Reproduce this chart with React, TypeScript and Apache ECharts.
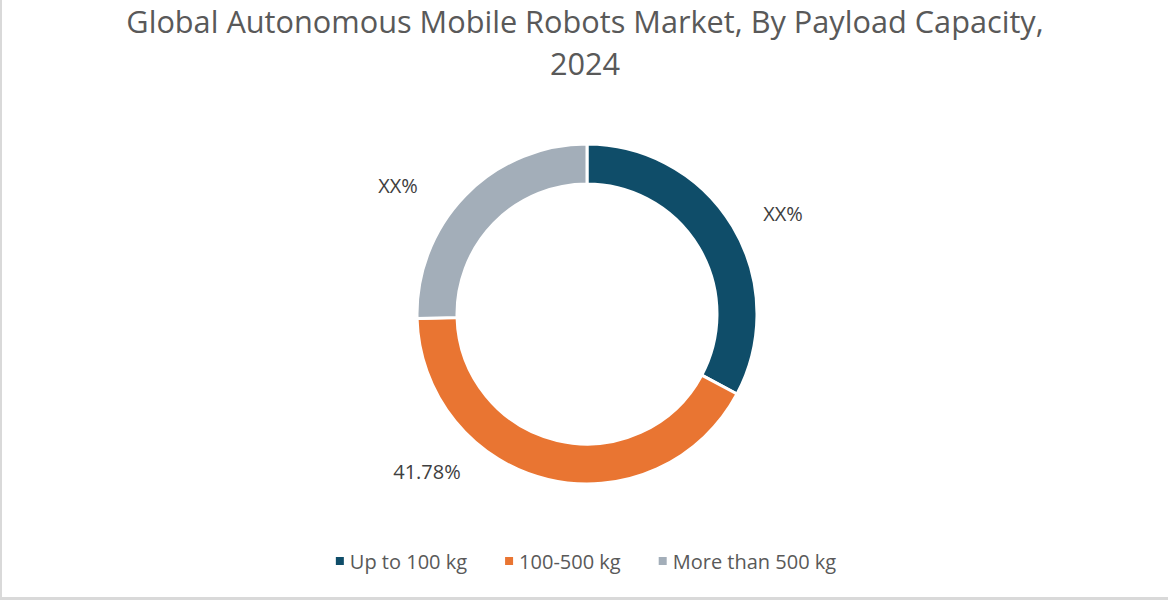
import * as echarts from "echarts";
import { useEffect, useRef } from "react";

const categories = ["Up to 100 kg", "100-500 kg", "More than 500 kg"];
const shares = [32.8, 41.78, 25.42];
const shareLabels = ["XX%", "41.78%", "XX%"];
const sliceColors = ["#0f4d69", "#e97532", "#a3aeb9"];
// where the labels sit (px in the chart box)
const labelSpots = [
  [781, 213],
  [425, 471],
  [396, 185],
];

const App = () => {
  const chartRef: any = useRef(null);

  useEffect(() => {
    const myChart = echarts.init(chartRef.current, null, { renderer: "svg" });
    myChart.setOption({
      animation: false,
      backgroundColor: "#ffffff",
      title: {
        text: "Global Autonomous Mobile Robots Market, By Payload Capacity,\n2024",
        left: "center",
        top: -5,
        textStyle: {
          fontFamily: "Open Sans",
          fontSize: 30.7,
          fontWeight: "normal",
          color: "#595959",
          lineHeight: 42,
        },
      },
      legend: {
        bottom: 21,
        left: "center",
        icon: "rect",
        itemWidth: 10,
        itemHeight: 10,
        itemGap: 36,
        data: categories,
        textStyle: {
          fontFamily: "Open Sans",
          fontSize: 20,
          color: "#595959",
        },
      },
      series: [
        {
          type: "pie",
          center: [585, 314],
          radius: [130, 170],
          startAngle: 90,
          clockwise: true,
          itemStyle: { borderColor: "#ffffff", borderWidth: 3 },
          label: {
            show: true,
            position: "outside",
            formatter: (p: any) => shareLabels[p.dataIndex],
            fontFamily: "Open Sans",
            fontSize: 20,
            color: "#404040",
          },
          labelLine: { show: false },
          labelLayout: (p: any) => ({
            x: labelSpots[p.dataIndex][0],
            y: labelSpots[p.dataIndex][1],
            align: "center",
            verticalAlign: "middle",
          }),
          emphasis: { disabled: true },
          data: categories.map((name, i) => ({
            name,
            value: shares[i],
            itemStyle: { color: sliceColors[i] },
          })),
        },
      ],
    });
    return () => {
      myChart.dispose();
    };
  }, []);

  return (
    <div
      style={{
        position: "fixed",
        left: 0,
        top: 0,
        width: 1168,
        height: 600,
        boxSizing: "border-box",
        borderLeft: "2px solid #d9d9d9",
        borderBottom: "3px solid #d9d9d9",
        background: "#fff",
      }}
    >
      <div ref={chartRef} style={{ width: 1166, height: 597 }}></div>
    </div>
  );
};

export default App;
